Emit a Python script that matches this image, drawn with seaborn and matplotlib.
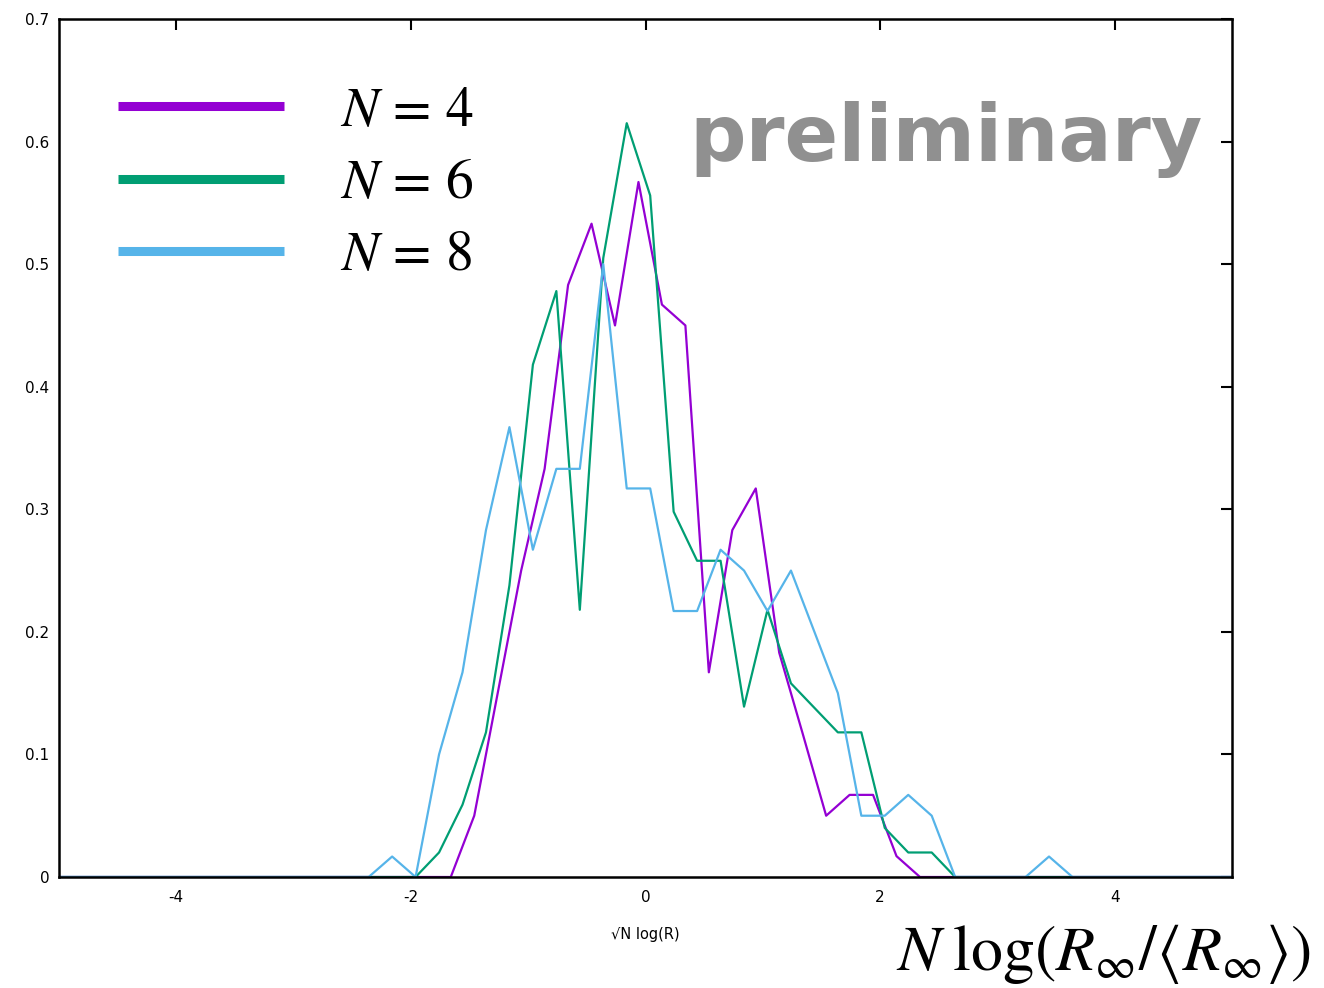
import numpy as np
import pandas as pd
import matplotlib
matplotlib.use("Agg")
import matplotlib.pyplot as plt
import seaborn as sns
from matplotlib.lines import Line2D

# ---------------- data ----------------
series_names = ["N = 4", "N = 6", "N = 8"]
series_colors = ["#9400D3", "#009E73", "#56B4E9"]

x_n4 = [-5.0, -1.66, -1.46, -1.26, -1.06, -0.86, -0.66, -0.46, -0.26, -0.06, 0.14,
        0.34, 0.54, 0.74, 0.94, 1.14, 1.34, 1.54, 1.74, 1.94, 2.14, 2.34, 5.0]
y_n4 = [0.0, 0.0, 0.05, 0.15, 0.25, 0.333, 0.483, 0.533, 0.45, 0.567, 0.467,
        0.45, 0.167, 0.283, 0.317, 0.183, 0.117, 0.05, 0.067, 0.067, 0.017, 0.0, 0.0]

x_n6 = [-5.0, -1.96, -1.76, -1.56, -1.36, -1.16, -0.96, -0.76, -0.56, -0.36, -0.16,
        0.04, 0.24, 0.44, 0.64, 0.84, 1.04, 1.24, 1.44, 1.64, 1.84, 2.04, 2.24,
        2.44, 2.64, 5.0]
y_n6 = [0.0, 0.0, 0.02, 0.059, 0.118, 0.238, 0.418, 0.478, 0.218, 0.505, 0.615,
        0.556, 0.298, 0.258, 0.258, 0.139, 0.218, 0.158, 0.138, 0.118, 0.118, 0.04, 0.02,
        0.02, 0.0, 0.0]

x_n8 = [-5.0, -2.36, -2.16, -1.96, -1.76, -1.56, -1.36, -1.16, -0.96, -0.76, -0.56,
        -0.36, -0.16, 0.04, 0.24, 0.44, 0.64, 0.84, 1.04, 1.24, 1.44, 1.64, 1.84,
        2.04, 2.24, 2.44, 2.64, 3.24, 3.44, 3.64, 5.0]
y_n8 = [0.0, 0.0, 0.0167, 0.0, 0.1, 0.167, 0.283, 0.367, 0.267, 0.333, 0.333,
        0.5, 0.317, 0.317, 0.217, 0.217, 0.267, 0.25, 0.217, 0.25, 0.2, 0.15, 0.05,
        0.05, 0.067, 0.05, 0.0, 0.0, 0.0167, 0.0, 0.0]

x_ticks = [-4, -2, 0, 2, 4]
x_tick_labels = ["-4", "-2", "0", "2", "4"]
y_ticks = [0, 0.1, 0.2, 0.3, 0.4, 0.5, 0.6, 0.7]
y_tick_labels = ["0", "0.1", "0.2", "0.3", "0.4", "0.5", "0.6", "0.7"]

legend_labels = [r"$N\,=\,4$", r"$N\,=\,6$", r"$N\,=\,8$"]

# ---------------- build long-form table ----------------
frames = []
for name, xs, ys in zip(series_names, [x_n4, x_n6, x_n8], [y_n4, y_n6, y_n8]):
    frames.append(pd.DataFrame({"x": xs, "y": ys, "series": name}))
df = pd.concat(frames, ignore_index=True)

sns.set_theme(style="white")
plt.rcParams["font.family"] = ["DejaVu Sans"]
plt.rcParams["mathtext.fontset"] = "stix"
plt.rcParams["text.color"] = "black"

fig = plt.figure(figsize=(13.24, 9.88), dpi=100)
ax = fig.add_axes([59 / 1324, 1 - 877 / 988, (1232 - 59) / 1324, (877 - 19) / 988])

sns.lineplot(data=df, x="x", y="y", hue="series", palette=series_colors,
             hue_order=series_names, estimator=None, sort=False, units="series",
             linewidth=1.6, ax=ax, legend=False)

ax.set_xlim(-5, 5)
ax.set_ylim(0, 0.7)
ax.set_xticks(x_ticks)
ax.set_xticklabels(x_tick_labels)
ax.set_yticks(y_ticks)
ax.set_yticklabels(y_tick_labels)
ax.tick_params(direction="in", top=True, right=True, length=8, width=1.5,
               labelsize=11, colors="black", labelcolor="black", pad=9)
ax.tick_params(axis="y", pad=7)
for sp in ax.spines.values():
    sp.set_visible(True)
    sp.set_color("black")
    sp.set_linewidth(1.8)

ax.set_xlabel("\u221aN log(R)", fontsize=10.5, labelpad=16, color="black")
ax.set_ylabel("")

handles = [Line2D([], [], color=c, linewidth=6.5, solid_capstyle="butt")
           for c in series_colors]
leg = ax.legend(handles, legend_labels, loc="upper left",
                bbox_to_anchor=(0.017, 0.97), frameon=False,
                fontsize=40, handlelength=3.0, handletextpad=1.0,
                labelspacing=0.33, borderpad=0.2)
for t in leg.get_texts():
    t.set_color("black")

ax.text(0.975, 0.905, "preliminary", transform=ax.transAxes, ha="right",
        va="top", fontsize=57, fontweight="bold", color="#909090",
        family="DejaVu Sans")

fig.text(0.99, 0.002, r"$N\;\log(R_\infty/\langle R_\infty\rangle)$",
         ha="right", va="bottom", fontsize=46, color="black")

fig.savefig("out.png", dpi=100)
